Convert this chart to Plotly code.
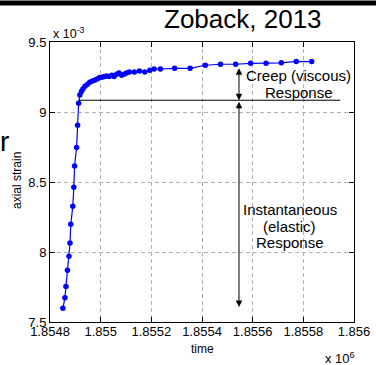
import plotly.graph_objects as go

# time in units of 1e6 s, strain in units of 1e-3
time_rise = [1.854851, 1.854859, 1.854863, 1.854869, 1.854875, 1.854879, 1.854882,
             1.854890, 1.854894, 1.854897, 1.854905, 1.854909, 1.854913]
strain_rise = [7.598, 7.674, 7.753, 7.869, 7.969, 8.064, 8.198,
               8.326, 8.462, 8.614, 8.746, 8.905, 9.062]
time_creep = [1.854918, 1.854924, 1.854930, 1.854938, 1.854948, 1.854957, 1.854967,
              1.854976, 1.854986, 1.854996, 1.855005, 1.855015, 1.855024, 1.855034,
              1.855044, 1.855053, 1.855063, 1.855072, 1.855083, 1.855092, 1.855102,
              1.855113, 1.855133, 1.855153, 1.855174, 1.855194, 1.855211, 1.855236,
              1.855292, 1.855353, 1.855413, 1.855473, 1.855533, 1.855592, 1.855653,
              1.855713, 1.855772, 1.855833]
strain_creep = [9.121, 9.146, 9.164, 9.184, 9.198, 9.212, 9.221,
                9.226, 9.236, 9.246, 9.248, 9.253, 9.257, 9.253,
                9.262, 9.253, 9.269, 9.279, 9.262, 9.269, 9.279,
                9.286, 9.286, 9.293, 9.286, 9.298, 9.307, 9.307,
                9.312, 9.312, 9.334, 9.341, 9.341, 9.348, 9.348,
                9.351, 9.361, 9.360]

x_tickvals = [1.8548, 1.8550, 1.8552, 1.8554, 1.8556, 1.8558, 1.8560]
x_ticktext = ["1.8548", "1.855", "1.8552", "1.8554", "1.8556", "1.8558", "1.856"]
y_tickvals = [7.5, 8.0, 8.5, 9.0, 9.5]
y_ticktext = ["7.5", "8", "8.5", "9", "9.5"]

elastic_level = 9.084
creep_top = 9.323
elastic_bottom = 7.607
arrow_time = 1.855546
ref_line_start = 1.854913
ref_line_end = 1.855946

FONT = "Arial, Liberation Sans, sans-serif"

fig = go.Figure()
fig.add_trace(go.Scatter(
    x=time_rise + time_creep, y=strain_rise + strain_creep,
    mode="lines+markers",
    line=dict(color="#0000ff", width=1.2),
    marker=dict(color="#0000ff", size=5.5),
    showlegend=False, cliponaxis=False,
))

axis_common = dict(
    showline=True, linecolor="black", linewidth=1, mirror="ticks",
    ticks="inside", ticklen=5, tickcolor="black", automargin=False,
    showgrid=True, gridcolor="#b0b0b0", gridwidth=1, griddash="4px,3px",
    zeroline=False, tickfont=dict(family=FONT, size=13, color="black"),
)
fig.update_xaxes(range=[1.8548, 1.8560], tickvals=x_tickvals, ticktext=x_ticktext,
                 ticklabelstandoff=-3, **axis_common)
fig.update_yaxes(range=[7.5, 9.5], tickvals=y_tickvals, ticktext=y_ticktext, **axis_common)

# horizontal reference line
fig.add_shape(type="line", xref="x", yref="y", x0=ref_line_start, x1=ref_line_end,
              y0=elastic_level, y1=elastic_level, line=dict(color="black", width=1))

# top black band (frame edge of the source slide)
fig.add_annotation(x=0.4539, y=1.15, xref="paper", yref="paper", text=" ",
                   showarrow=False, xanchor="center", yanchor="top",
                   width=380, height=4, bgcolor="black", borderpad=0,
                   font=dict(size=1, color="black"))

# double arrows
for y_a, y_b in [(creep_top, elastic_level), (elastic_level, elastic_bottom)]:
    fig.add_annotation(x=arrow_time, y=y_b, ax=arrow_time, ay=y_a,
                       xref="x", yref="y", axref="x", ayref="y", text="",
                       showarrow=True, arrowside="end+start", arrowhead=2,
                       arrowsize=1.3, arrowwidth=1, arrowcolor="black")

def txt(x, y, s, size=15, xref="x", yref="y", xanchor="center", **kw):
    fig.add_annotation(x=x, y=y, xref=xref, yref=yref, text=s, showarrow=False,
                       xanchor=xanchor, yanchor="middle",
                       font=dict(family=FONT, size=size, color="black"), **kw)

txt(1.855782, 9.262, "Creep (viscous)")
txt(1.855784, 9.139, "Response")
txt(1.855746, 8.305, "Instantaneous")
txt(1.855746, 8.184, "(elastic)")
txt(1.855746, 8.069, "Response")

txt(0.635, 1.082, "Zoback, 2013", size=26, xref="paper", yref="paper")
txt(0.0033, 1.032, "x 10<sup>-3</sup>", size=12.5, xref="paper", yref="paper", xanchor="left")
txt(0.898, -0.128, "x 10<sup>6</sup>", size=13, xref="paper", yref="paper", xanchor="left")
txt(0.503, -0.096, "time", size=12, xref="paper", yref="paper")
txt(-0.1086, 0.507, "axial strain", size=12, xref="paper", yref="paper", textangle=-90)
txt(-0.151, 0.646, "r", size=28, xref="paper", yref="paper")

fig.update_layout(
    width=376, height=365,
    margin=dict(l=50, r=22, t=42, b=43),
    paper_bgcolor="white", plot_bgcolor="white",
    font=dict(family=FONT, color="black"),
)
fig.write_html("out.html", config={"displayModeBar": False},
               post_script="document.body.style.margin='0';document.body.style.overflow='hidden';")
